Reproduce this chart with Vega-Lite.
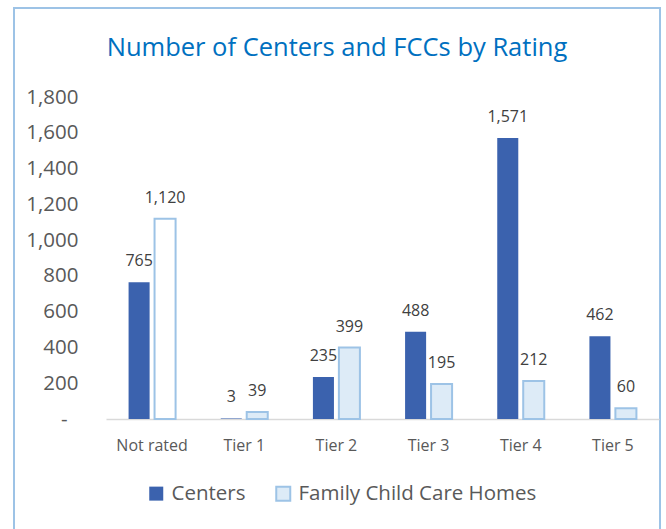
{
  "$schema": "https://vega.github.io/schema/vega-lite/v6.json",
  "width": 646,
  "height": 532,
  "autosize": "none",
  "padding": {"left": 14, "top": 8, "right": 6, "bottom": 0},
  "background": "white",
  "title": {
    "text": "Number of Centers and FCCs by Rating",
    "font": "Open Sans",
    "fontSize": 25.5,
    "fontWeight": "normal",
    "color": "#0070C0",
    "anchor": "middle",
    "frame": "group",
    "offset": -53
  },
  "config": {
    "view": {"stroke": "#9DC3E6", "strokeWidth": 2},
    "font": "Open Sans"
  },
  "data": {
    "values": [
      {"rating": "Not rated", "series": "Centers", "count": 765},
      {"rating": "Not rated", "series": "Family Child Care Homes", "count": 1120},
      {"rating": "Tier 1", "series": "Centers", "count": 3},
      {"rating": "Tier 1", "series": "Family Child Care Homes", "count": 39},
      {"rating": "Tier 2", "series": "Centers", "count": 235},
      {"rating": "Tier 2", "series": "Family Child Care Homes", "count": 399},
      {"rating": "Tier 3", "series": "Centers", "count": 488},
      {"rating": "Tier 3", "series": "Family Child Care Homes", "count": 195},
      {"rating": "Tier 4", "series": "Centers", "count": 1571},
      {"rating": "Tier 4", "series": "Family Child Care Homes", "count": 212},
      {"rating": "Tier 5", "series": "Centers", "count": 462},
      {"rating": "Tier 5", "series": "Family Child Care Homes", "count": 60}
    ]
  },
  "encoding": {
    "x": {
      "field": "rating",
      "type": "nominal",
      "sort": null,
      "scale": {"paddingInner": 0.49, "paddingOuter": 0.245, "range": [92, 645]},
      "axis": {
        "title": null,
        "offset": -121,
        "labelAngle": 0,
        "ticks": false,
        "tickSize": 0,
        "labelPadding": 18,
        "labelFontSize": 16,
        "labelColor": "#595959",
        "labelFont": "Open Sans",
        "domainColor": "#D9D9D9",
        "domainWidth": 1.5
      }
    },
    "xOffset": {
      "field": "series",
      "type": "nominal",
      "sort": null,
      "scale": {"paddingInner": 0.19, "paddingOuter": 0}
    },
    "y": {
      "field": "count",
      "type": "quantitative",
      "scale": {"domain": [0, 1800], "nice": false, "range": [411, 89]},
      "axis": {
        "title": null,
        "offset": -92,
        "grid": false,
        "domain": false,
        "ticks": false,
        "tickSize": 0,
        "values": [0, 200, 400, 600, 800, 1000, 1200, 1400, 1600, 1800],
        "labelOverlap": false,
        "labelPadding": {"condition": {"test": "datum.value == 0", "value": 39}, "value": 28},
        "labelFontSize": 20.5,
        "labelColor": "#595959",
        "labelFont": "Open Sans",
        "labelExpr": "datum.value == 0 ? '-' : format(datum.value, ',')"
      }
    }
  },
  "layer": [
    {
      "mark": {"type": "bar", "strokeWidth": 2},
      "encoding": {
        "fill": {
          "condition": {"test": "datum.rating == 'Not rated' && datum.series == 'Family Child Care Homes'", "value": "#FFFFFF"},
          "field": "series",
          "type": "nominal",
          "sort": null,
          "scale": {"domain": ["Centers", "Family Child Care Homes"], "range": ["#3B62AE", "#DDEBF7"]},
          "legend": {
            "title": null,
            "orient": "none",
            "direction": "horizontal",
            "legendX": 132,
            "legendY": 475,
            "symbolType": "square",
            "symbolSize": 196,
            "symbolStrokeWidth": 2,
            "labelFontSize": 20.5,
            "labelColor": "#595959",
            "labelFont": "Open Sans",
            "labelOffset": 5,
            "labelLimit": 0,
            "columnPadding": 26
          }
        },
        "stroke": {
          "field": "series",
          "type": "nominal",
          "sort": null,
          "scale": {"domain": ["Centers", "Family Child Care Homes"], "range": ["rgba(59,98,174,0)", "#9DC3E6"]}
        }
      }
    },
    {
      "mark": {"type": "text", "baseline": "bottom", "dy": -13, "fontSize": 16, "color": "#404040", "font": "Open Sans"},
      "encoding": {
        "text": {"field": "count", "type": "quantitative", "format": ","}
      }
    }
  ]
}
